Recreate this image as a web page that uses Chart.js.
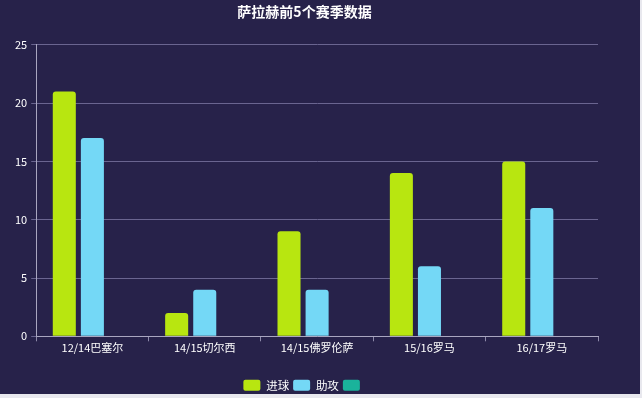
<!DOCTYPE html>
<html>
<head>
<meta charset="utf-8">
<script src="https://cdn.jsdelivr.net/npm/chart.js@4"></script>
<style>
  html, body { margin: 0; padding: 0; background: #e8e8ee; }
  #wrap { position: absolute; left: 0; top: 0; width: 640px; height: 394px; background: #27224a; }
</style>
</head>
<body>
<div id="wrap"><canvas id="chart" width="640" height="394"></canvas></div>
<script>
// dati del grafico
const seasons = ['12/14巴塞尔', '14/15切尔西', '14/15佛罗伦萨', '15/16罗马', '16/17罗马'];
const goals = [21, 2, 9, 14, 15];
const assists = [17, 4, 4, 6, 11];
const extra = [];
const yTicks = [0, 5, 10, 15, 20, 25];

const font = "'Noto Sans CJK SC', 'Microsoft YaHei', sans-serif";

new Chart(document.getElementById('chart').getContext('2d'), {
    type: 'bar',
    data: {
        labels: seasons,
        datasets: [
            { label: '进球', data: goals, backgroundColor: '#b8e610', borderRadius: 3, borderSkipped: 'bottom' },
            { label: '助攻', data: assists, backgroundColor: '#74d8f6', borderRadius: 3, borderSkipped: 'bottom' },
            { label: '', data: extra, backgroundColor: '#1ab39b', borderRadius: 3, borderSkipped: 'bottom' }
        ]
    },
    options: {
        responsive: false,
        animation: false,
        devicePixelRatio: 1,
        layout: { padding: { left: 11, right: 42, top: 0, bottom: -7 } },
        datasets: { bar: { categoryPercentage: 0.75, barPercentage: 0.82 } },
        plugins: {
            title: {
                display: true,
                text: '萨拉赫前5个赛季数据',
                color: '#ffffff',
                font: { family: font, size: 14, weight: 'bold' },
                padding: { top: 3, bottom: 25 }
            },
            legend: {
                position: 'bottom',
                labels: {
                    color: '#ffffff',
                    font: { family: font, size: 11.5 },
                    boxWidth: 17,
                    boxHeight: 11,
                    padding: 4,
                    useBorderRadius: true,
                    borderRadius: 2
                }
            },
            tooltip: { enabled: false }
        },
        scales: {
            x: {
                afterFit: function(axis) { axis.height += 21; },
                grid: { display: true, offset: true, drawOnChartArea: false, color: '#8e8aaa', tickLength: 5 },
                border: { color: '#a9a6c0' },
                ticks: { color: '#ffffff', font: { family: font, size: 11 }, padding: 0 }
            },
            y: {
                min: 0,
                max: 25,
                afterBuildTicks: function(axis) { axis.ticks = yTicks.map(v => ({ value: v })); },
                grid: { color: '#6a6590', tickLength: 5 },
                border: { color: '#a9a6c0' },
                ticks: { color: '#ffffff', font: { family: font, size: 11 }, padding: 4 }
            }
        }
    }
});
</script>
</body>
</html>
